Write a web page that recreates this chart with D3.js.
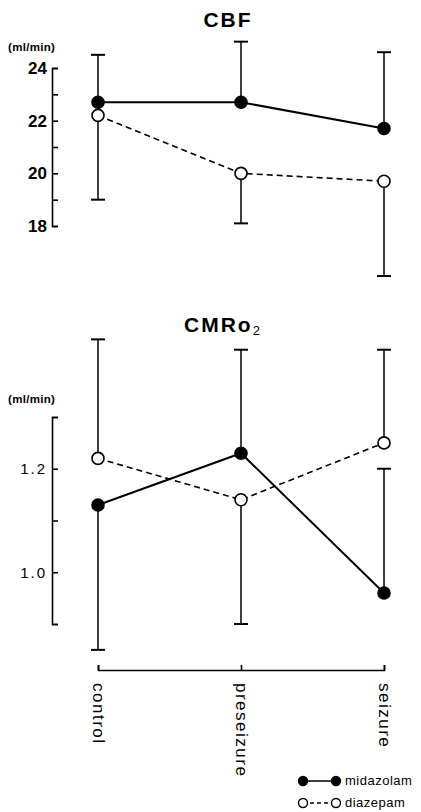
<!DOCTYPE html>
<html><head><meta charset="utf-8">
<script src="https://cdn.jsdelivr.net/npm/d3@7"></script>
<style>body{margin:0;background:#fff}svg{display:block}text{font-family:"Liberation Sans",Arial,sans-serif;fill:#000}</style>
</head><body>
<svg id="c" width="421" height="812"></svg>
<script>
const categories = ["control", "preseizure", "seizure"];
const seriesNames = ["midazolam", "diazepam"];
// CBF (ml/min)
const cbfMidazolam = [22.7, 22.7, 21.7];
const cbfMidazolamErrUp = [1.8, 2.3, 2.9];
const cbfMidazolamErrDown = [0, 0, 0];
const cbfDiazepam = [22.2, 20.0, 19.7];
const cbfDiazepamErrUp = [0, 0, 0];
const cbfDiazepamErrDown = [3.2, 1.9, 3.6];
const cbfTicks = [18, 19, 20, 21, 22, 23, 24];
const cbfTickLabels = [18, 20, 22, 24];
// CMRO2 (ml/min)
const cmrMidazolam = [1.13, 1.23, 0.96];
const cmrMidazolamErrUp = [0, 0.20, 0.24];
const cmrMidazolamErrDown = [0.28, 0, 0];
const cmrDiazepam = [1.22, 1.14, 1.25];
const cmrDiazepamErrUp = [0.23, 0, 0.18];
const cmrDiazepamErrDown = [0, 0.24, 0];
const cmrTicks = [0.9, 1.0, 1.1, 1.2, 1.3];
const cmrTickLabels = [1.0, 1.2];

const svg = d3.select("#c");
const x = d3.scalePoint().domain(categories).range([98, 384]);

function panel(opts) {
  const g = svg.append("g");
  const y = d3.scaleLinear().domain(opts.domain).range(opts.range);
  // title
  g.append("text").attr("x", opts.titleX).attr("y", opts.titleY).attr("text-anchor", "middle")
    .style("font-size", "21px").style("letter-spacing", "2px").style("font-weight", "bold").text(opts.title)
    .call(t => { if (opts.sub) t.append("tspan").attr("dy", 3).style("font-size", "13px").style("font-weight", "normal").text(opts.sub); });
  // unit
  g.append("text").attr("x", 8).attr("y", opts.unitY).style("font-size", "11.5px").style("font-weight", "bold")
    .style("letter-spacing", "0.3px").text("(ml/min)");
  // axis
  const ax = d3.axisLeft(y).tickValues(opts.ticks).tickSizeInner(-6).tickSizeOuter(-6).tickPadding(5)
    .tickFormat(d => opts.labels.some(l => Math.abs(l - d) < 1e-9) ? opts.fmt(d) : "");
  const axg = g.append("g").attr("transform", "translate(52,0)").call(ax);
  axg.selectAll("path,line").attr("stroke", "#000").attr("stroke-width", 1.6);
  axg.selectAll("text").style("font-size", opts.labelSize).style("font-weight", opts.labelWeight)
    .style("letter-spacing", opts.ls).attr("font-family", "'Liberation Sans',Arial,sans-serif");
  axg.select(".domain").attr("stroke-width", 1.6);

  const series = [
    {vals: opts.mid, up: opts.midUp, down: opts.midDown, filled: true},
    {vals: opts.dia, up: opts.diaUp, down: opts.diaDown, filled: false}
  ];
  // error bars
  series.forEach(s => {
    categories.forEach((c, i) => {
      [[s.up[i], 1], [s.down[i], -1]].forEach(([e, dir]) => {
        if (!e) return;
        const yEnd = y(s.vals[i] + dir * e);
        g.append("line").attr("x1", x(c)).attr("x2", x(c)).attr("y1", y(s.vals[i])).attr("y2", yEnd)
          .attr("stroke", "#000").attr("stroke-width", 1.5);
        g.append("line").attr("x1", x(c) - 7).attr("x2", x(c) + 7).attr("y1", yEnd).attr("y2", yEnd)
          .attr("stroke", "#000").attr("stroke-width", 2);
      });
    });
  });
  const line = d3.line().x((d, i) => x(categories[i])).y(d => y(d));
  g.append("path").attr("d", line(opts.dia)).attr("fill", "none").attr("stroke", "#000")
    .attr("stroke-width", 1.6).attr("stroke-dasharray", "6,4");
  g.append("path").attr("d", line(opts.mid)).attr("fill", "none").attr("stroke", "#000")
    .attr("stroke-width", 2);
  series.forEach(s => {
    g.selectAll(null).data(s.vals).enter().append("circle")
      .attr("cx", (d, i) => x(categories[i])).attr("cy", d => y(d)).attr("r", 6)
      .attr("fill", s.filled ? "#000" : "#fff").attr("stroke", "#000").attr("stroke-width", 1.6);
  });
  return y;
}

panel({title: "CBF", titleX: 228, titleY: 27, unitY: 51, domain: [18, 24], range: [226, 68],
  ticks: cbfTicks, labels: cbfTickLabels, fmt: d3.format("d"), labelSize: "17px", labelWeight: "bold", ls: "0px",
  mid: cbfMidazolam, midUp: cbfMidazolamErrUp, midDown: cbfMidazolamErrDown,
  dia: cbfDiazepam, diaUp: cbfDiazepamErrUp, diaDown: cbfDiazepamErrDown});

panel({title: "CMRo", sub: "2", titleX: 223, titleY: 332, unitY: 403, domain: [0.9, 1.3], range: [624, 417],
  ticks: cmrTicks, labels: cmrTickLabels, fmt: d3.format(".1f"), labelSize: "15px", labelWeight: "normal", ls: "2px",
  mid: cmrMidazolam, midUp: cmrMidazolamErrUp, midDown: cmrMidazolamErrDown,
  dia: cmrDiazepam, diaUp: cmrDiazepamErrUp, diaDown: cmrDiazepamErrDown});

// x axis
const xg = svg.append("g").attr("transform", "translate(0,670)")
  .call(d3.axisBottom(x).tickSizeInner(-5).tickSizeOuter(-5).tickFormat(""));
xg.selectAll("path,line").attr("stroke", "#000").attr("stroke-width", 1.6);
xg.selectAll("text").remove();
svg.append("g").selectAll("text").data(categories).enter().append("text")
  .attr("transform", d => `translate(${x(d) - 5},683) rotate(90)`)
  .style("font-size", "17px").style("letter-spacing", "1.5px")
  .text(d => d);

// legend
const lg = svg.append("g");
seriesNames.forEach((n, i) => {
  const yy = 781 + i * 22;
  lg.append("line").attr("x1", 303).attr("x2", 336).attr("y1", yy).attr("y2", yy)
    .attr("stroke", "#000").attr("stroke-width", 1.5).attr("stroke-dasharray", i ? "4,3" : null);
  [303, 336].forEach(cx => lg.append("circle").attr("cx", cx).attr("cy", yy).attr("r", 4.5)
    .attr("fill", i ? "#fff" : "#000").attr("stroke", "#000").attr("stroke-width", 1.4));
  lg.append("text").attr("x", 345).attr("y", yy + 4).style("font-size", "13px")
    .style("letter-spacing", "0.5px").text(n);
});
</script>
</body></html>
